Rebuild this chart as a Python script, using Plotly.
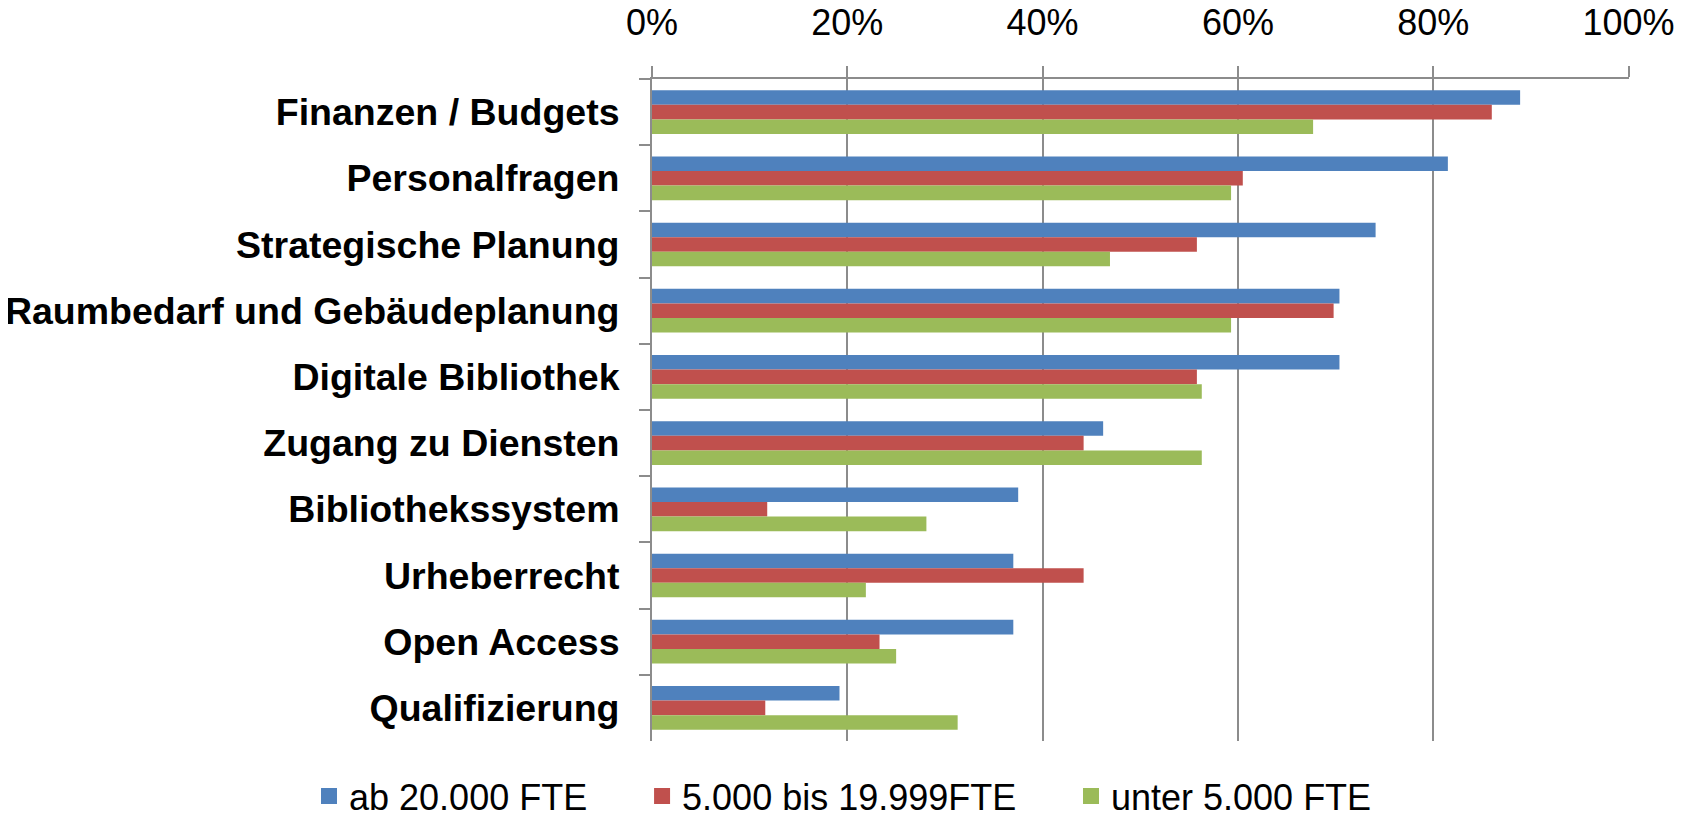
import plotly.graph_objects as go

categories = [
    "Finanzen / Budgets",
    "Personalfragen",
    "Strategische Planung",
    "Raumbedarf und Gebäudeplanung",
    "Digitale Bibliothek",
    "Zugang zu Diensten",
    "Bibliothekssystem",
    "Urheberrecht",
    "Open Access",
    "Qualifizierung",
]
series_names = ["ab 20.000 FTE", "5.000 bis 19.999FTE", "unter 5.000 FTE"]
ab_20000 = [0.889, 0.815, 0.741, 0.704, 0.704, 0.462, 0.375, 0.370, 0.370, 0.192]
von_5000 = [0.860, 0.605, 0.558, 0.698, 0.558, 0.442, 0.118, 0.442, 0.233, 0.116]
unter_5000 = [0.677, 0.593, 0.469, 0.593, 0.563, 0.563, 0.281, 0.219, 0.250, 0.313]
colors = ["#4F81BD", "#C0504D", "#9BBB59"]
x_ticks = [0, 0.2, 0.4, 0.6, 0.8, 1.0]

FONT = "Liberation Sans, Arial, sans-serif"
legend_ids = ["legend", "legend2", "legend3"]
legend_x = [0.1777, 0.3743, 0.6275]

fig = go.Figure()
for name, vals, col in zip(series_names, [ab_20000, von_5000, unter_5000], colors):
    fig.add_trace(go.Bar(
        y=categories, x=vals, name=name, orientation="h",
        marker=dict(color=col, line=dict(width=0)), showlegend=False,
    ))
# legend entries (square keys)
for name, col, lid in zip(series_names, colors, legend_ids):
    fig.add_trace(go.Scatter(
        x=[None], y=[None], mode="markers", name=name, legend=lid,
        marker=dict(symbol="square", size=16, color=col), showlegend=True,
    ))

legend_common = dict(
    orientation="h", xref="container", yref="container", xanchor="left",
    y=0.033, yanchor="middle", font=dict(family=FONT, size=36, color="black"),
    itemwidth=30, bgcolor="rgba(0,0,0,0)",
)
fig.update_layout(
    width=1694, height=815,
    margin=dict(l=644, r=73, t=71, b=82, autoexpand=False),
    paper_bgcolor="white", plot_bgcolor="white",
    barmode="group", bargap=0.34, bargroupgap=0,
    font=dict(family=FONT, size=36, color="black"),
    legend=dict(x=legend_x[0], **legend_common),
    legend2=dict(x=legend_x[1], **legend_common),
    legend3=dict(x=legend_x[2], **legend_common),
)
fig.update_xaxes(
    side="top", range=[0, 1.0005], tickvals=x_ticks, tickformat=".0%",
    showgrid=True, gridcolor="#8C8C8C", gridwidth=1.5,
    showline=True, linecolor="#8C8C8C", linewidth=2,
    ticks="outside", ticklen=11, tickcolor="#8C8C8C", tickwidth=1.5,
    tickfont=dict(family=FONT, size=36, color="black"),
    ticklabelstandoff=17, automargin=False,
    zeroline=False,
)
fig.update_yaxes(
    autorange="reversed", type="category", tickson="boundaries",
    categoryorder="array", categoryarray=categories,
    showline=True, linecolor="#8C8C8C", linewidth=2,
    ticks="outside", ticklen=11, tickcolor="#8C8C8C", tickwidth=1.5,
    showgrid=False, automargin=False,
    tickfont=dict(family=FONT, size=37.5, color="black", weight="bold"),
    ticklabelstandoff=23,
)
fig.write_html("out.html")
